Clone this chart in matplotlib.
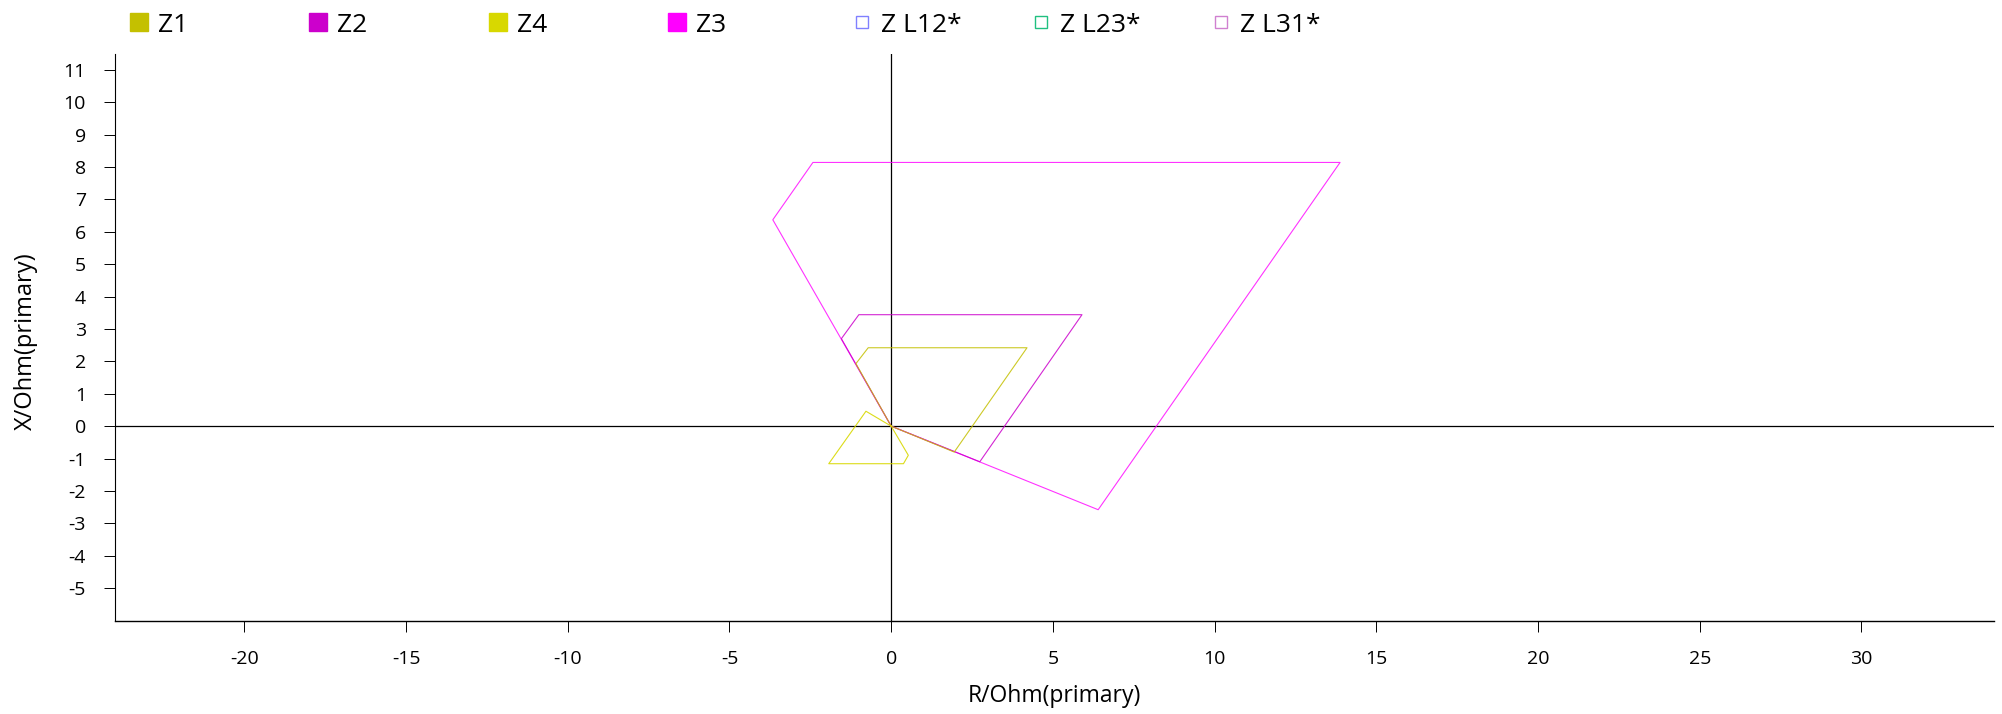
import matplotlib
matplotlib.use('Agg')
import matplotlib.pyplot as plt
from matplotlib.lines import Line2D

plt.rcParams['font.family'] = ['Open Sans', 'DejaVu Sans']
plt.rcParams['axes.unicode_minus'] = False

# zone polygons, R and X in ohm (primary)
z1_r = [0, -1.09, -0.71, 4.20, 1.95, 0]
z1_x = [0, 1.93, 2.42, 2.42, -0.80, 0]
z2_r = [0, -1.54, -1.00, 5.90, 2.74, 0]
z2_x = [0, 2.70, 3.44, 3.44, -1.10, 0]
z3_r = [0, -3.66, -2.42, 13.88, 6.40, 0]
z3_x = [0, 6.37, 8.14, 8.14, -2.58, 0]
z4_r = [0, -0.78, -1.93, 0.38, 0.53, 0]
z4_x = [0, 0.46, -1.16, -1.16, -0.90, 0]

legend_labels = ['Z1', 'Z2', 'Z4', 'Z3', 'Z L12*', 'Z L23*', 'Z L31*']
legend_colors = ['#c4c000', '#cc00cc', '#d8d800', '#ff00ff', '#8080ff', '#20c080', '#d080d0']
legend_filled = [True, True, True, True, False, False, False]

x_ticks = list(range(-20, 31, 5))
y_ticks = list(range(-5, 12))

W, H = 2002, 714
fig = plt.figure(figsize=(W / 100, H / 100), dpi=100)
ax = fig.add_axes([115 / W, 1 - 620.5 / H, (1994 - 115) / W, (620.5 - 53.6) / H])

# draw the zones (Z3 first so smaller ones sit on top)
ax.plot(z3_r, z3_x, color='#ff00ff', lw=0.8, alpha=0.8)
ax.plot(z2_r, z2_x, color='#cc00cc', lw=0.8, alpha=0.85)
ax.plot(z1_r, z1_x, color='#c4c000', lw=0.8, alpha=0.85)
ax.plot(z4_r, z4_x, color='#d8d800', lw=0.8, alpha=0.9)

ax.axhline(0, color='black', lw=0.9, zorder=0)
ax.axvline(0, color='black', lw=0.9, zorder=0)

ax.set_xlim(-24, 34.1)
ax.set_ylim(-6, 11.5)
ax.set_xticks(x_ticks)
ax.set_yticks(y_ticks)
ax.spines['top'].set_visible(False)
ax.spines['right'].set_visible(False)
ax.spines['left'].set_linewidth(0.8)
ax.spines['bottom'].set_linewidth(1.0)
ax.tick_params(direction='out', length=8, width=0.7, pad=13, labelsize=14)

ax.set_xlabel('R/Ohm(primary)', fontsize=16.5, va='center')
ax.xaxis.set_label_coords(0.5, -0.133)
ax.set_ylabel('X/Ohm(primary)', fontsize=17, va='center')
ax.yaxis.set_label_coords(-0.0476, 0.493)

# legend row along the top, one entry at a time
leg_x = [139, 318, 498, 677, 862, 1041, 1221]
for i in range(len(legend_labels)):
    if legend_filled[i]:
        h = Line2D([], [], ls='none', marker='s', ms=13, color=legend_colors[i])
    else:
        h = Line2D([], [], ls='none', marker='s', ms=8, mfc='white',
                   mec=legend_colors[i], mew=1)
    fig.legend(handles=[h], labels=[legend_labels[i]], loc='center left',
               bbox_to_anchor=((leg_x[i] - 9.7) / W, 1 - 25 / H),
               frameon=False, fontsize=19, handlelength=0.72, handletextpad=0.38,
               borderpad=0, borderaxespad=0)

fig.savefig('out.png', dpi=100)
